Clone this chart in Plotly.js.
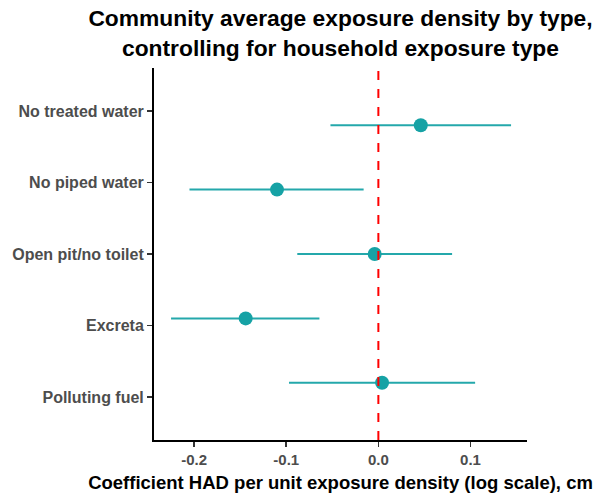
<!DOCTYPE html>
<html>
<head>
<meta charset="utf-8">
<script src="https://cdn.plot.ly/plotly-3.0.1.min.js"></script>
<style>html,body{margin:0;padding:0;background:#fff;}#chart{width:598px;height:498px;}</style>
</head>
<body>
<div id="chart"></div>
<script>
// Categories, top to bottom as displayed
const categories = ["No treated water", "No piped water", "Open pit/no toilet", "Excreta", "Polluting fuel"];
// Estimates and 95% CI bounds
const estimate = [0.046, -0.110, -0.004, -0.144, 0.004];
const ciLow    = [-0.052, -0.205, -0.088, -0.225, -0.097];
const ciHigh   = [0.144, -0.016, 0.080, -0.064, 0.105];
const xTickVals = [-0.2, -0.1, 0.0, 0.1];
const xTickText = ["-0.2", "-0.1", "0.0", "0.1"];
const refLine = 0;

const teal = "#16A2A5";
const order = categories.slice().reverse(); // bottom-to-top for Plotly

const trace = {
  type: "scatter",
  mode: "markers",
  x: estimate,
  y: categories,
  yaxis: "y2",
  marker: {size: 14, color: teal, line: {width: 0}},
  error_x: {
    type: "data",
    symmetric: false,
    array: ciHigh.map((h, i) => h - estimate[i]),
    arrayminus: ciLow.map((l, i) => estimate[i] - l),
    color: "#24A8AB",
    thickness: 2,
    width: 0
  },
  hoverinfo: "skip",
  showlegend: false
};

// invisible trace to anchor the label axis
const labelTrace = {
  type: "scatter", mode: "markers",
  x: estimate, y: categories, yaxis: "y",
  marker: {size: 1, opacity: 0}, hoverinfo: "skip", showlegend: false
};

const fontFam = "Liberation Sans, Arial, sans-serif";

const layout = {
  width: 598, height: 498,
  paper_bgcolor: "#ffffff", plot_bgcolor: "#ffffff",
  margin: {l: 154, r: 71, t: 68, b: 58},
  font: {family: fontFam},
  title: {
    text: "<b>Community average exposure density by type,<br>controlling for household exposure type</b>",
    font: {size: 22.8, color: "#000000", family: fontFam},
    x: 0.5, xref: "paper", xanchor: "center",
    y: 0.948, yref: "container", yanchor: "top"
  },
  xaxis: {
    range: [-0.2435, 0.1613],
    tickvals: xTickVals, ticktext: xTickText,
    ticks: "outside", ticklen: 5, tickwidth: 1.5, tickcolor: "#333333",
    tickfont: {size: 15, color: "#4D4D4D", family: fontFam, weight: "bold"},
    showline: true, linecolor: "#000000", linewidth: 2,
    showgrid: false, zeroline: false,
    title: {text: "<b>Coefficient HAD per unit exposure density (log scale), cm</b>",
            font: {size: 18.5, color: "#000000", family: fontFam}, standoff: 9}
  },
  yaxis: {
    type: "category", categoryorder: "array", categoryarray: order,
    range: [-0.6, 4.6],
    ticks: "outside", ticklen: 5, tickwidth: 1.5, tickcolor: "#333333",
    tickfont: {size: 16, color: "#4D4D4D", family: fontFam, weight: "bold"},
    showline: true, linecolor: "#000000", linewidth: 2,
    showgrid: false, zeroline: false
  },
  yaxis2: {
    type: "category", categoryorder: "array", categoryarray: order,
    range: [-0.888, 4.888],
    overlaying: "y", side: "left",
    showticklabels: false, ticks: "", showline: false, showgrid: false, zeroline: false
  },
  shapes: [{
    type: "line", xref: "x", yref: "paper",
    x0: refLine, x1: refLine, y0: 0, y1: 1,
    line: {color: "#FF0000", width: 2, dash: "9px,9px"},
    layer: "above"
  }]
};

Plotly.newPlot("chart", [labelTrace, trace], layout, {displayModeBar: false, staticPlot: true});
</script>
</body>
</html>
